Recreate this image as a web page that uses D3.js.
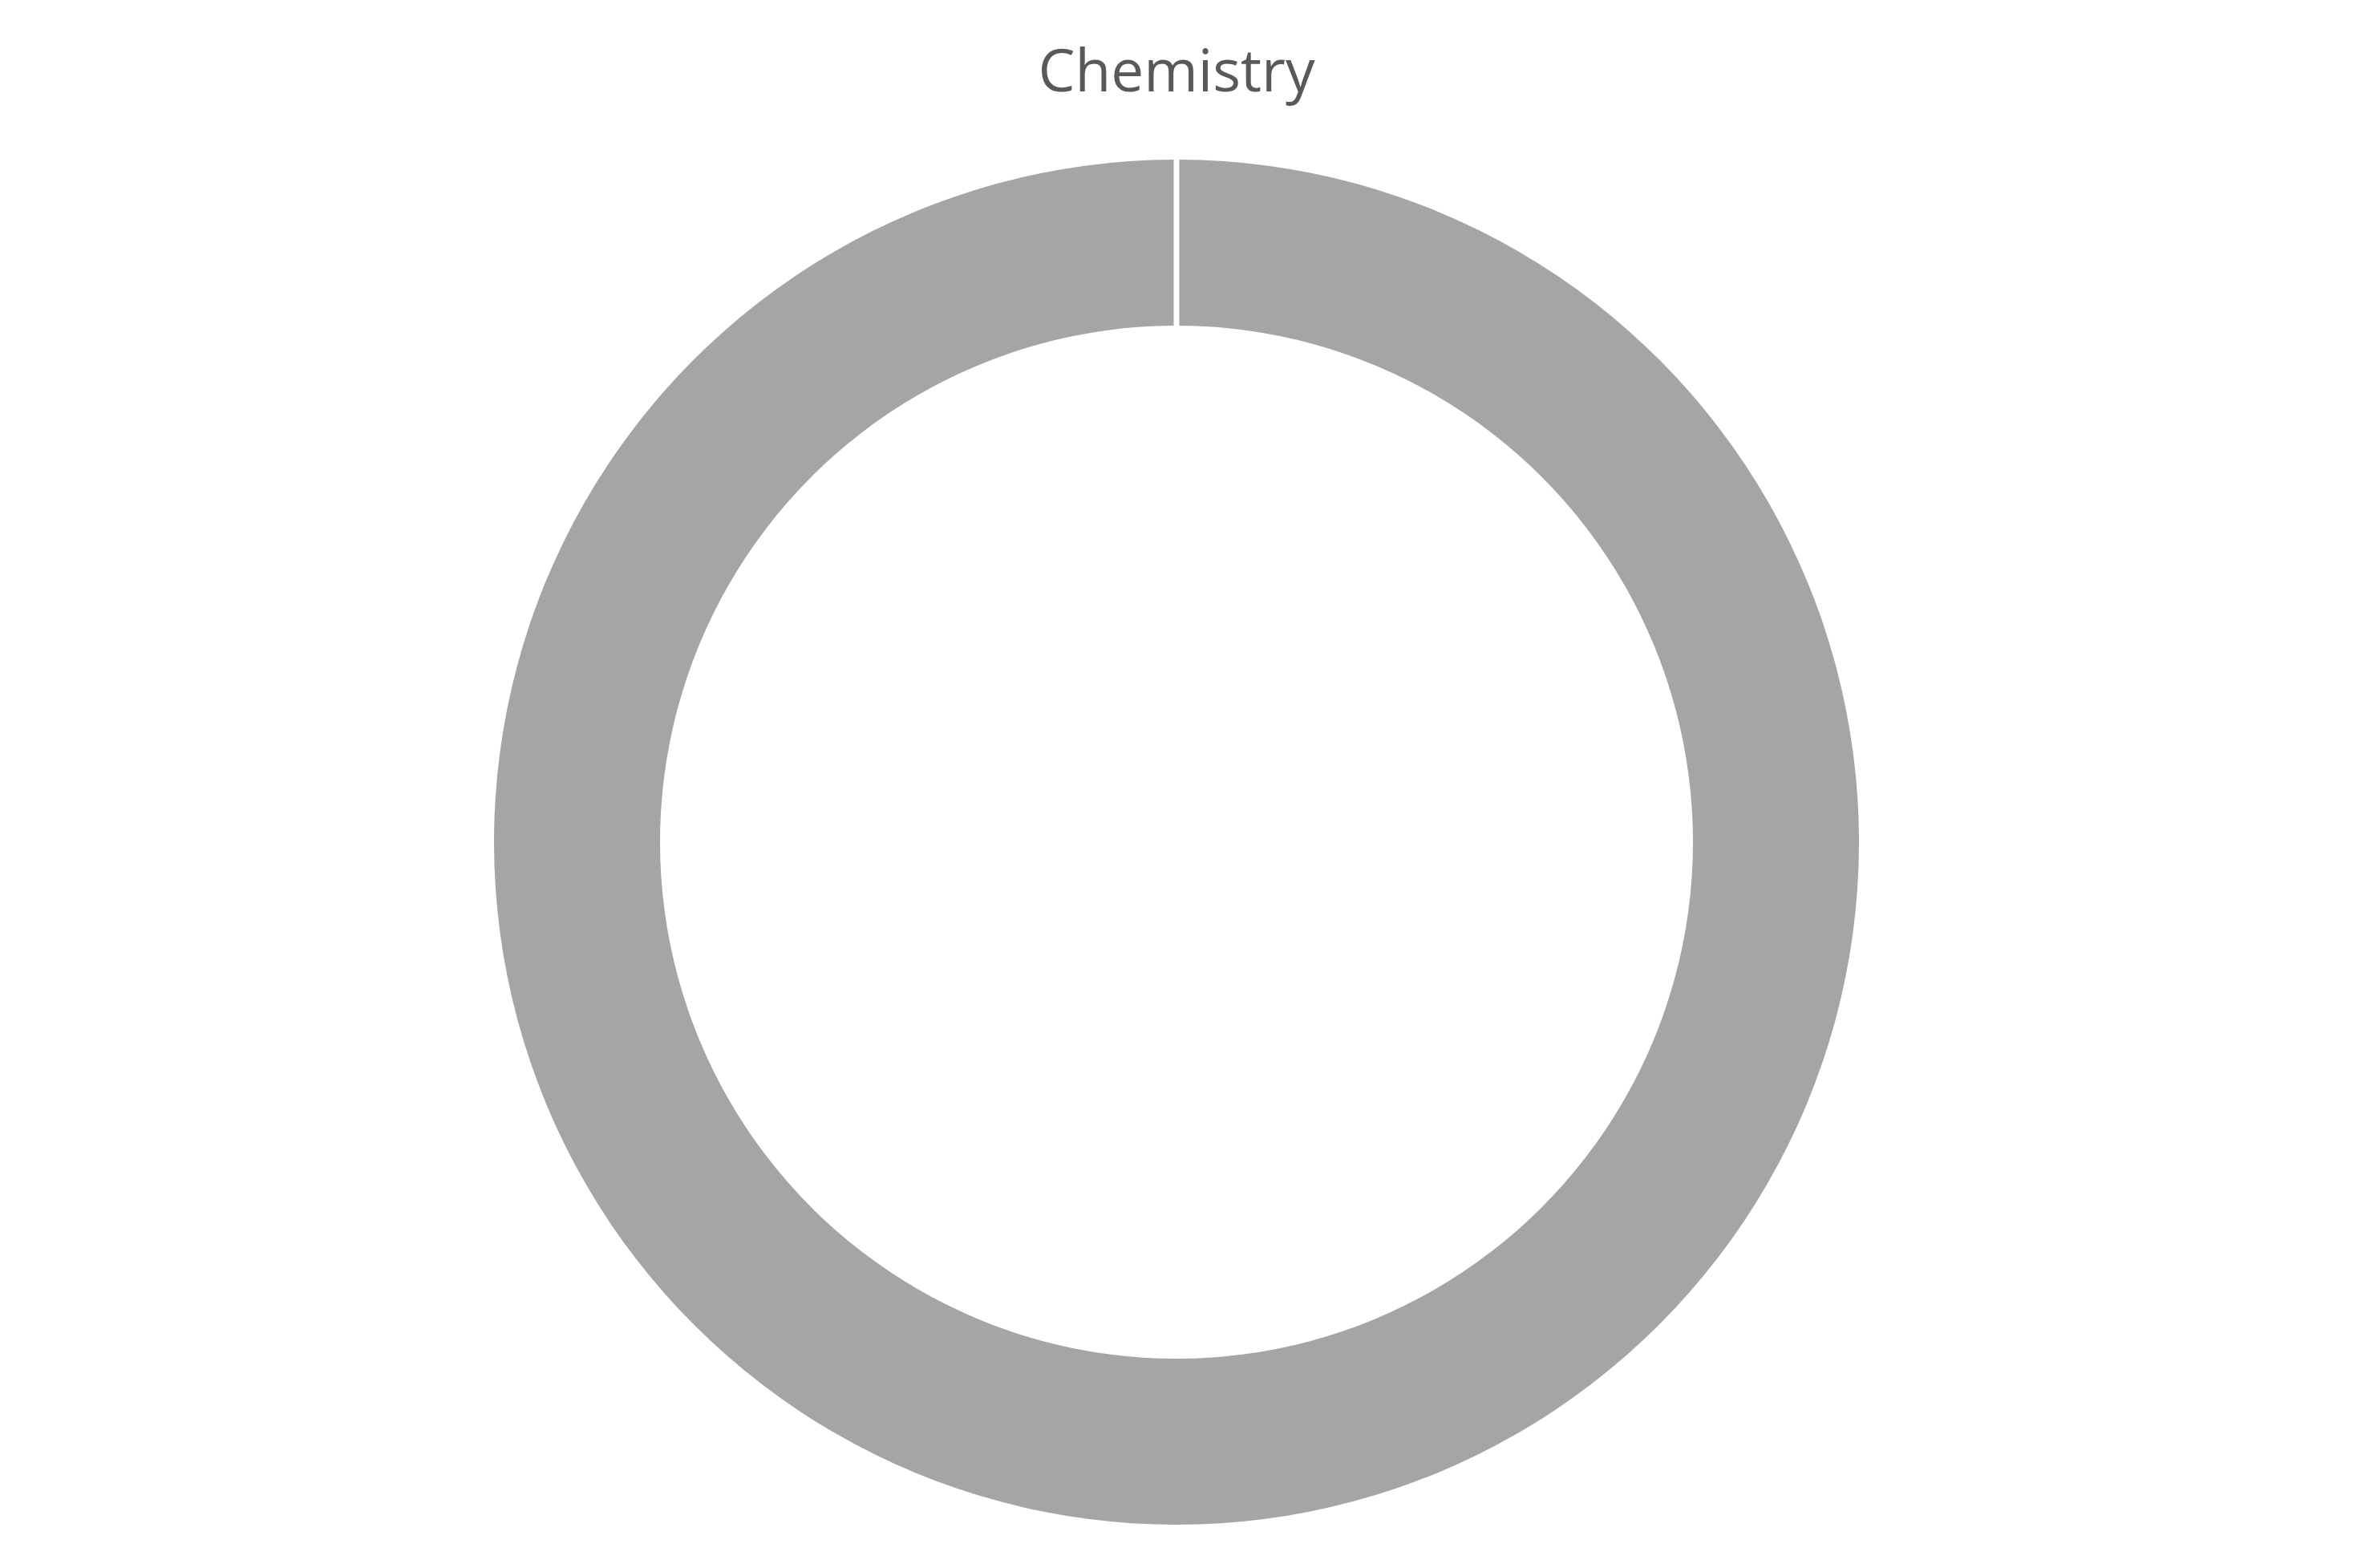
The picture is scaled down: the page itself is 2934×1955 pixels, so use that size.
<!DOCTYPE html>
<html>
<head>
<meta charset="utf-8">
<script src="https://cdn.jsdelivr.net/npm/d3@7"></script>
<style>
  html, body { margin: 0; padding: 0; background: #ffffff; }
  svg { display: block; }
</style>
</head>
<body>
<svg id="chart" width="2934" height="1955"></svg>
<script>
const title = "Chemistry";
const categories = ["Chemistry"];
const values = [100];
const colors = ["#A5A5A5"];

const W = 2934, H = 1955;
const cx = 1467, cy = 1050;
const outerR = 851, innerR = 644;
const gapPx = 7;

const svg = d3.select("#chart");
svg.append("rect").attr("width", W).attr("height", H).attr("fill", "#ffffff");

const padR = Math.sqrt(innerR * innerR + outerR * outerR);
const pie = d3.pie().sort(null).value(d => d.value).padAngle(gapPx / padR);
const arcs = pie(categories.map((c, i) => ({ name: c, value: values[i], color: colors[i] })));

const arc = d3.arc()
  .innerRadius(innerR)
  .outerRadius(outerR)
  .padRadius(padR)
  .startAngle(d => d.startAngle)
  .endAngle(d => d.endAngle - 1e-5);

const g = svg.append("g").attr("transform", `translate(${cx},${cy})`);
g.selectAll("path")
  .data(arcs)
  .join("path")
  .attr("d", arc)
  .attr("fill", d => d.data.color);

svg.append("text")
  .attr("x", cx)
  .attr("y", 114)
  .attr("text-anchor", "middle")
  .attr("font-family", "'Open Sans', sans-serif")
  .attr("font-size", 73)
  .attr("fill", "#595959")
  .text(title);
</script>
</body>
</html>
